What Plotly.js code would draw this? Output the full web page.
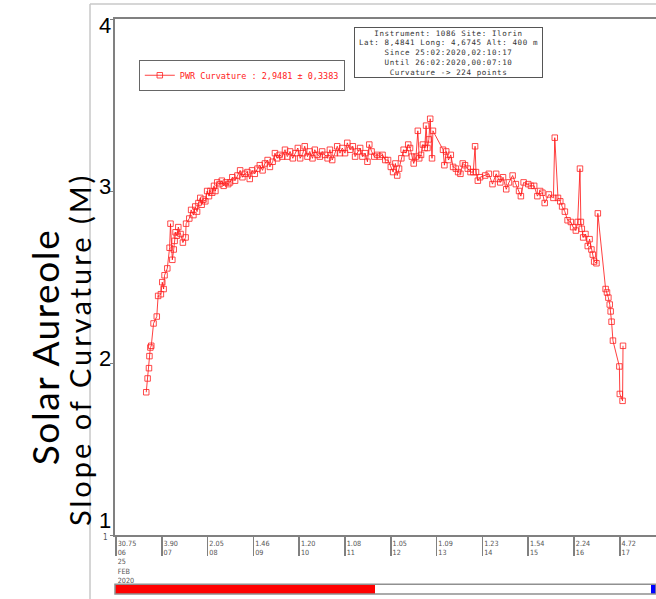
<!DOCTYPE html>
<html>
<head>
<meta charset="utf-8">
<script src="https://cdn.plot.ly/plotly-3.0.1.min.js"></script>
<style>
  html, body { margin: 0; padding: 0; background: #fff; }
  #chart { width: 656px; height: 599px; }
</style>
</head>
<body>
<div id="chart"></div>
<script>
// Time of day (decimal hours, 25 Feb 2020)
const hours = [
  6.66, 6.69, 6.72, 6.73, 6.75, 6.77, 6.82, 6.89, 6.92, 6.98,
  7.01, 7.04, 7.06, 7.12, 7.17, 7.19, 7.23, 7.26, 7.28, 7.30,
  7.33, 7.36, 7.41, 7.46, 7.52, 7.53, 7.60, 7.64, 7.69, 7.73,
  7.77, 7.80, 7.84, 7.87, 7.91, 7.95, 7.99, 8.03, 8.06, 8.10,
  8.14, 8.17, 8.21, 8.26, 8.31, 8.35, 8.40, 8.45, 8.49, 8.54,
  8.60, 8.65, 8.71, 8.76, 8.81, 8.87, 8.92, 8.97, 9.03, 9.09,
  9.14, 9.20, 9.25, 9.31, 9.36, 9.42, 9.47, 9.52, 9.57, 9.63,
  9.69, 9.74, 9.80, 9.86, 9.92, 9.97, 10.02, 10.08, 10.12, 10.18,
  10.23, 10.29, 10.34, 10.40, 10.45, 10.50, 10.56, 10.62, 10.67, 10.72,
  10.78, 10.83, 10.89, 10.94, 11.00, 11.05, 11.11, 11.17, 11.22, 11.28,
  11.33, 11.38, 11.44, 11.49, 11.53, 11.58, 11.64, 11.70, 11.76, 11.82,
  11.88, 11.94, 12.00, 12.05, 12.10, 12.14, 12.18, 12.23, 12.28, 12.33,
  12.38, 12.42, 12.46, 12.50, 12.55, 12.59, 12.62, 12.66, 12.70, 12.74,
  12.77, 12.80, 12.83, 12.86, 12.90, 12.92, 13.14, 13.17, 13.21, 13.26,
  13.31, 13.36, 13.42, 13.47, 13.52, 13.57, 13.62, 13.68, 13.74, 13.80,
  13.84, 13.86, 13.90, 13.95, 14.06, 14.14, 14.22, 14.30, 14.35, 14.39,
  14.45, 14.52, 14.58, 14.66, 14.73, 14.80, 14.84, 14.90, 15.00, 15.06,
  15.13, 15.20, 15.26, 15.31, 15.36, 15.45, 15.55, 15.58, 15.65, 15.70,
  15.74, 15.80, 15.86, 15.93, 15.98, 16.04, 16.08, 16.13, 16.15, 16.17,
  16.20, 16.25, 16.30, 16.34, 16.38, 16.41, 16.44, 16.49, 16.52, 16.69,
  16.72, 16.75, 16.78, 16.80, 16.82, 16.85, 16.99, 17.00, 17.06, 17.07
];
// Slope of curvature (M)
const curvature = [
  1.83, 1.91, 1.97, 2.04, 2.09, 2.10, 2.23, 2.27, 2.39, 2.40,
  2.47, 2.43, 2.51, 2.55, 2.67, 2.81, 2.60, 2.66, 2.71, 2.76,
  2.74, 2.79, 2.75, 2.70, 2.73, 2.81, 2.84, 2.89, 2.86, 2.91,
  2.88, 2.93, 2.96, 2.92, 2.95, 2.94, 3.00, 2.97, 3.00, 2.99,
  3.03, 3.00, 3.05, 3.04, 3.06, 3.03, 3.05, 3.04, 3.05, 3.08,
  3.06, 3.09, 3.12, 3.08, 3.10, 3.11, 3.07, 3.12, 3.10, 3.13,
  3.15, 3.12, 3.16, 3.18, 3.14, 3.17, 3.22, 3.19, 3.21, 3.20,
  3.24, 3.20, 3.23, 3.19, 3.22, 3.25, 3.19, 3.22, 3.26, 3.20,
  3.23, 3.19, 3.24, 3.21, 3.20, 3.23, 3.21, 3.19, 3.24, 3.18,
  3.22, 3.26, 3.22, 3.25, 3.22, 3.28, 3.24, 3.26, 3.20, 3.23,
  3.25, 3.20, 3.22, 3.17, 3.27, 3.23, 3.20, 3.21, 3.20, 3.21,
  3.18, 3.18, 3.14, 3.11, 3.16, 3.09, 3.13, 3.19, 3.24, 3.22,
  3.27, 3.25, 3.20, 3.16, 3.20, 3.35, 3.19, 3.21, 3.27, 3.25,
  3.38, 3.25, 3.30, 3.42, 3.19, 3.35, 3.24, 3.15, 3.23, 3.18,
  3.21, 3.14, 3.13, 3.11, 3.10, 3.16, 3.15, 3.13, 3.11, 3.11,
  3.26, 3.11, 3.06, 3.08, 3.09, 3.10, 3.04, 3.10, 3.07, 3.05,
  3.08, 3.01, 3.05, 3.09, 3.04, 3.00, 2.97, 3.05, 3.04, 3.03,
  3.03, 2.97, 3.00, 2.99, 2.93, 2.98, 2.96, 3.31, 2.96, 2.94,
  2.91, 2.88, 2.83, 2.82, 2.79, 2.77, 2.82, 3.13, 2.82, 2.78,
  2.73, 2.75, 2.68, 2.72, 2.66, 2.63, 2.59, 2.58, 2.87, 2.43,
  2.41, 2.38, 2.34, 2.30, 2.24, 2.13, 1.98, 1.82, 1.78, 2.10
];

const hourTicks = [6, 7, 8, 9, 10, 11, 12, 13, 14, 15, 16, 17];
const hourLabels = ["06", "07", "08", "09", "10", "11", "12", "13", "14", "15", "16", "17"];
const airMassLabels = ["30.75", "3.90", "2.05", "1.46", "1.20", "1.08", "1.05", "1.09", "1.23", "1.54", "2.24", "4.72"];
const dateLabel = ["25", "FEB", "2020"];
const yTicks = [1, 2, 3, 4];
const yTickLabels = ["1", "2", "3", "4"];

const infoLines = [
  "Instrument: 1086 Site: Ilorin",
  "Lat: 8,4841 Long: 4,6745 Alt: 400 m",
  "Since 25:02:2020,02:10:17",
  "Until 26:02:2020,00:07:10",
  "Curvature -> 224 points"
];
const seriesName = "PWR Curvature : 2,9481 \u00b1 0,3383";
const titleLine1 = "Solar Aureole";
const titleLine2 = "Slope of Curvature (M)";

const tickText = hourTicks.map((h, i) => {
  let t = airMassLabels[i] + "<br>" + hourLabels[i];
  if (i === 0) t += "<br>" + dateLabel.join("<br>");
  return t;
});

const monoFont = "DejaVu Sans Mono, Liberation Mono, monospace";
const narrowFont = "Liberation Sans Narrow, DejaVu Sans Condensed, Liberation Sans, Arial, sans-serif";
const spaced = (s, px) => "<span style=\"letter-spacing:" + px + "px\">" + s + "</span>";

const trace = {
  x: hours,
  y: curvature,
  type: "scatter",
  mode: "lines+markers",
  name: seriesName,
  line: { color: "rgba(255,0,0,0.75)", width: 1 },
  marker: { symbol: "square-open", size: 5.5, color: "rgba(255,30,30,0.8)", line: { width: 1 } }
};

// big overlaid y tick labels (pixel nudges match the reference placement)
const yLabelShift = [15, 5, 5, -6];
const yLabelAnns = yTicks.map((v, i) => ({
  xref: "paper", yref: "y", x: -0.004, y: v,
  xanchor: "right", yanchor: "middle", yshift: yLabelShift[i],
  text: yTickLabels[i], showarrow: false,
  font: { family: "Liberation Sans, Arial, sans-serif", size: 22, color: "#000" }
}));

const layout = {
  width: 656,
  height: 599,
  margin: { l: 115, r: 0, t: 19, b: 64, pad: 0 },
  paper_bgcolor: "#ffffff",
  plot_bgcolor: "#ffffff",
  showlegend: true,
  legend: {
    x: 0.044, y: 0.921, xanchor: "left", yanchor: "top",
    bgcolor: "#ffffff", bordercolor: "#666", borderwidth: 1,
    font: { family: monoFont, size: 8.5, color: "#ff2020" },
    itemwidth: 30
  },
  xaxis: {
    range: [5.978, 17.79],
    tickmode: "array",
    tickvals: hourTicks,
    ticktext: tickText,
    ticks: "outside",
    ticklen: 19,
    tickwidth: 1.5,
    tickcolor: "#808080",
    ticklabelposition: "outside right",
    tickfont: { family: narrowFont, size: 7.2, color: "#555" },
    showline: true, linecolor: "#808080", linewidth: 2, mirror: true,
    showgrid: false, zeroline: false
  },
  yaxis: {
    range: [1, 4],
    tickmode: "array",
    tickvals: yTicks,
    ticks: "outside",
    ticklen: 3,
    tickcolor: "#808080",
    showticklabels: false,
    showline: true, linecolor: "#808080", linewidth: 2, mirror: true,
    showgrid: false, zeroline: false
  },
  annotations: yLabelAnns.concat([
    {
      xref: "paper", yref: "paper", x: 0.6165, y: 0.935,
      xanchor: "center", yanchor: "middle",
      text: infoLines.map(s => spaced(s, 0.6)).join("<br>"),
      showarrow: false, align: "center",
      font: { family: monoFont, size: 7.5, color: "#333" },
      bgcolor: "#ffffff", bordercolor: "#555", borderwidth: 1, borderpad: 0,
      width: 187, height: 49
    },
    {
      xref: "paper", yref: "paper", x: -0.1312, y: 0.364,
      xanchor: "center", yanchor: "middle", textangle: -90,
      text: spaced(titleLine1, 1.6), showarrow: false,
      font: { family: "Lato, Open Sans, sans-serif", size: 37, color: "#000" }
    },
    {
      xref: "paper", yref: "paper", x: -0.0665, y: 0.3585,
      xanchor: "center", yanchor: "middle", textangle: -90,
      text: spaced(titleLine2, 3.0), showarrow: false,
      font: { family: "Lato, Open Sans, sans-serif", size: 29, color: "#000" }
    },
    {
      xref: "paper", yref: "paper", x: -0.009, y: 0, yshift: -2,
      xanchor: "right", yanchor: "middle",
      text: "1", showarrow: false,
      font: { family: narrowFont, size: 8, color: "#555" }
    }
  ]),
  shapes: [
    // slide frame lines
    { type: "line", xref: "paper", yref: "paper", x0: -0.0462, x1: 1.0, y0: 1.029, y1: 1.029,
      line: { color: "#c8c8c8", width: 1.5 } },
    { type: "line", xref: "paper", yref: "paper", x0: -0.0462, x1: -0.0462, y0: 1.029, y1: -0.13,
      line: { color: "#c8c8c8", width: 1.5 } },
    // time bar
    { type: "rect", xref: "paper", yref: "paper", x0: 0, x1: 0.4806, y0: -0.1143, y1: -0.0955,
      fillcolor: "#ff0000", line: { width: 0 }, layer: "below" },
    { type: "rect", xref: "paper", yref: "paper", x0: 0.9908, x1: 1.0, y0: -0.1143, y1: -0.0955,
      fillcolor: "#0000ff", line: { width: 0 }, layer: "below" },
    { type: "rect", xref: "paper", yref: "paper", x0: 0, x1: 1.0, y0: -0.1143, y1: -0.0955,
      fillcolor: "rgba(0,0,0,0)", line: { color: "#909090", width: 1.5 }, layer: "below" }
  ]
};

Plotly.newPlot("chart", [trace], layout, { displayModeBar: false, staticPlot: true });
</script>
</body>
</html>
